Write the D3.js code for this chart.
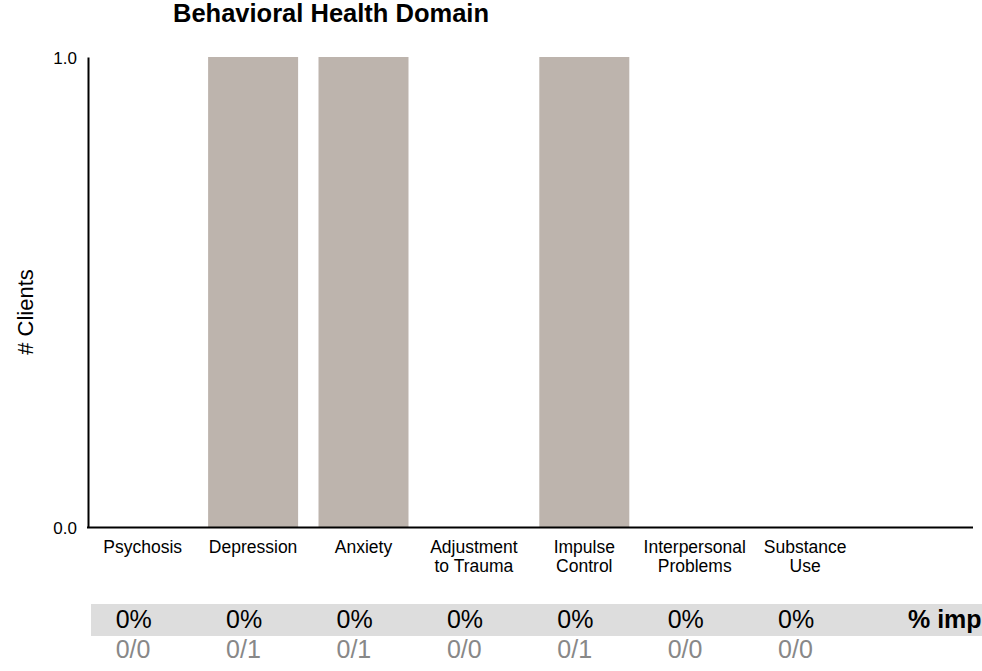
<!DOCTYPE html>
<html><head><meta charset="utf-8">
<script src="https://cdn.jsdelivr.net/npm/d3@7"></script>
<style>
html,body{margin:0;padding:0;background:#fff;overflow:hidden;}
svg{display:block;font-family:"Liberation Sans",Arial,sans-serif;}
</style></head>
<body>
<svg id="chart" width="982" height="671"></svg>
<script>
const categories = [["Psychosis"],["Depression"],["Anxiety"],["Adjustment","to Trauma"],["Impulse","Control"],["Interpersonal","Problems"],["Substance","Use"]];
const clientCounts = [0, 1, 1, 0, 1, 0, 0];
const percentImproved = ["0%","0%","0%","0%","0%","0%","0%"];
const ratios = ["0/0","0/1","0/1","0/0","0/1","0/0","0/0"];
const yTicks = [0, 1];
const title = "Behavioral Health Domain";
const yLabel = "# Clients";
const rowLabel = "% improved";

const svg = d3.select("#chart");
const keys = categories.map(c => c.join(" "));
const step = 110.4, x0 = 87.5;
const x = d3.scaleBand().domain(keys).range([x0, x0 + step * keys.length])
  .paddingInner(20.4 / step).paddingOuter(10.2 / step);
const y = d3.scaleLinear().domain([0, 1]).range([527, 57]);

svg.append("text").attr("x", 173).attr("y", 22).attr("font-size", 25.5).attr("font-weight", "bold")
  .attr("fill", "#000").text(title);

svg.append("text").attr("transform", "translate(33,312) rotate(-90)").attr("text-anchor", "middle")
  .attr("font-size", 22).attr("fill", "#000").text(yLabel);

svg.selectAll("rect.bar").data(clientCounts).join("rect").attr("class", "bar")
  .attr("x", (d, i) => x(keys[i])).attr("width", x.bandwidth())
  .attr("y", d => y(d)).attr("height", d => y(0) - y(d)).attr("fill", "#bdb4ad");

// y axis
const yAxis = svg.append("g").attr("transform", "translate(88,0)")
  .call(d3.axisLeft(y).tickValues(yTicks).tickFormat(d3.format(".1f")).tickSize(0).tickPadding(11));
yAxis.select(".domain").attr("stroke", "#000").attr("stroke-width", 2);
yAxis.selectAll("text").attr("font-size", 17).attr("font-family", "Liberation Sans, Arial, sans-serif")
  .attr("fill", "#000").attr("dy", "0.41em");

// x axis line
svg.append("line").attr("x1", 87).attr("x2", 973).attr("y1", 527.5).attr("y2", 527.5)
  .attr("stroke", "#000").attr("stroke-width", 2.2);

// category labels
const lab = svg.selectAll("text.cat").data(categories).join("text").attr("class", "cat")
  .attr("text-anchor", "middle").attr("font-size", 17.5).attr("fill", "#000")
  .attr("transform", (d, i) => `translate(${x(keys[i]) + x.bandwidth() / 2},553)`);
lab.selectAll("tspan").data(d => d).join("tspan").attr("x", 0).attr("y", (d, j) => j * 19).text(d => d);

// table
svg.append("rect").attr("x", 91).attr("y", 604).attr("width", 891).attr("height", 32).attr("fill", "#dddddd");
svg.selectAll("text.pct").data(percentImproved).join("text").attr("class", "pct")
  .attr("x", (d, i) => x(keys[i]) + 18).attr("y", 628).attr("font-size", 25).attr("fill", "#000").text(d => d);
svg.selectAll("text.ratio").data(ratios).join("text").attr("class", "ratio")
  .attr("x", (d, i) => x(keys[i]) + 18).attr("y", 658).attr("font-size", 25).attr("fill", "#888").text(d => d);
svg.append("text").attr("x", 908).attr("y", 628).attr("font-size", 25).attr("font-weight", "bold")
  .attr("fill", "#000").text(rowLabel);
</script>
</body></html>
